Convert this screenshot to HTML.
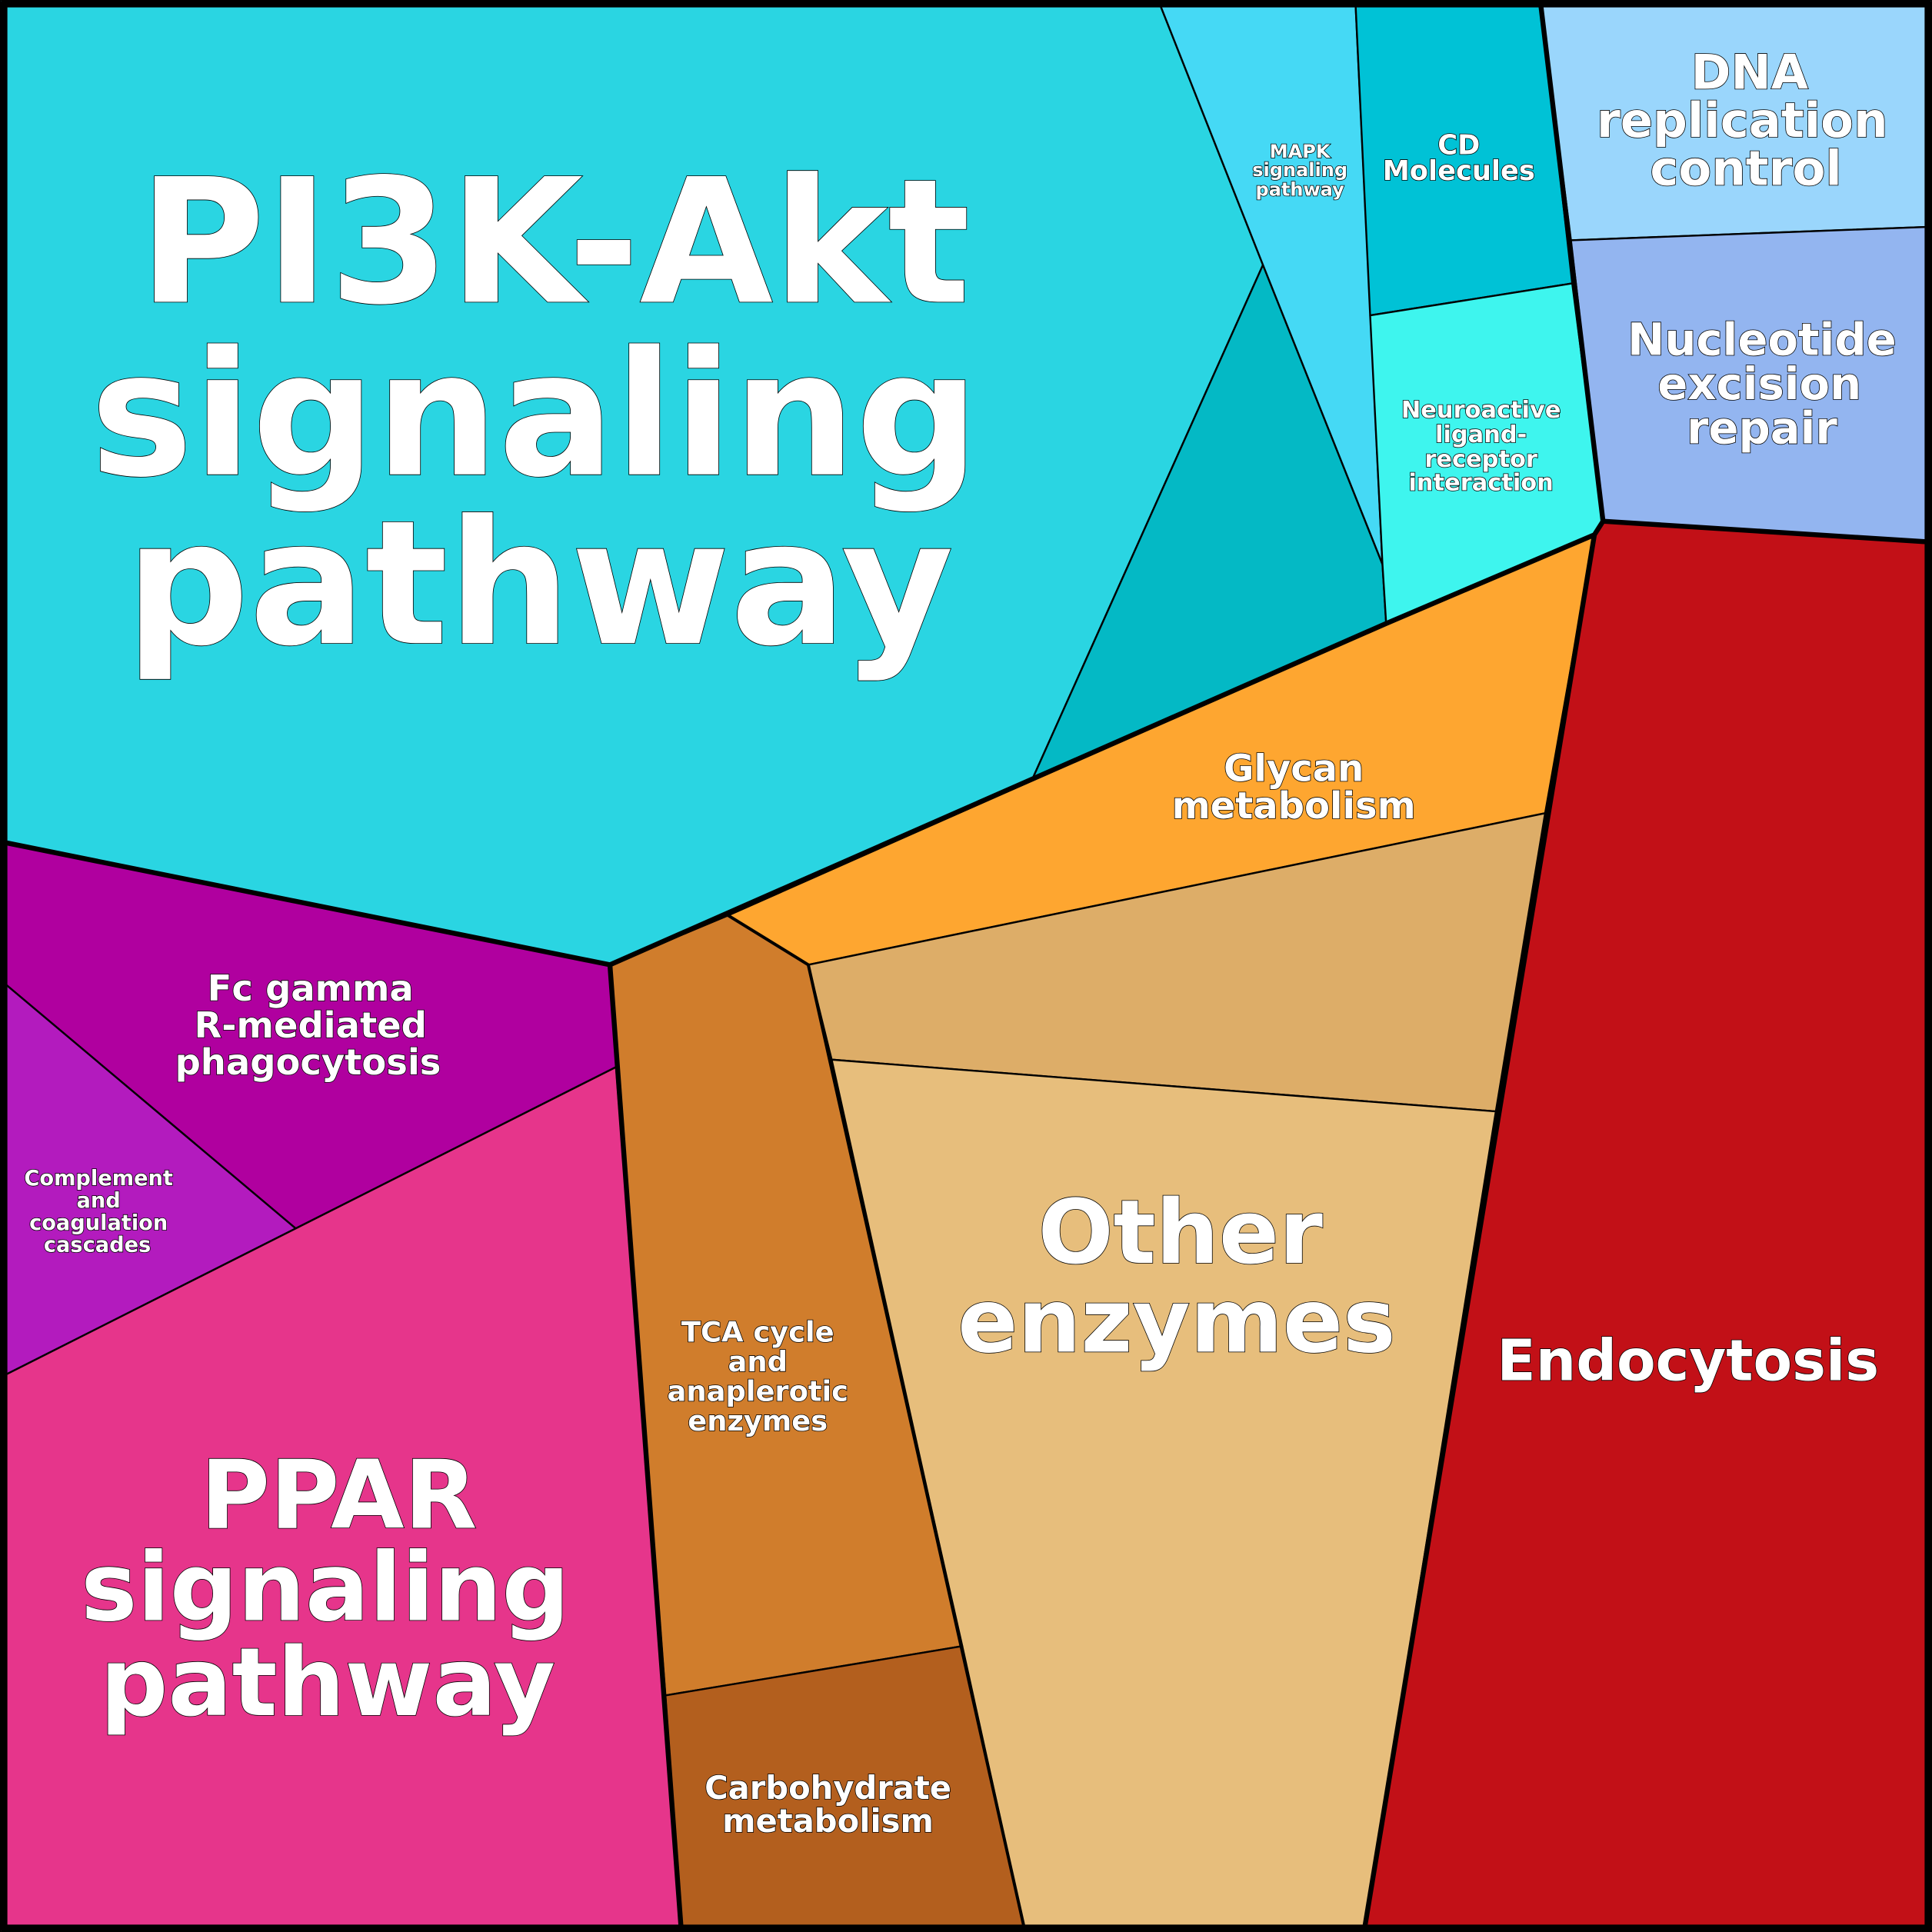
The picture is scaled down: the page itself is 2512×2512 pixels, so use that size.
<!DOCTYPE html>
<html><head><meta charset="utf-8"><style>
html,body{margin:0;padding:0;background:#000;}
svg{display:block;}
text{font-family:"DejaVu Sans","Liberation Sans",sans-serif;font-weight:bold;fill:#fff;stroke:#000;stroke-width:1;paint-order:stroke;text-anchor:middle;}
</style></head><body>
<svg width="2512" height="2512" viewBox="0 0 1568 1568" xmlns="http://www.w3.org/2000/svg">
<g stroke="#000" stroke-width="1.5" stroke-linejoin="round">
<polygon fill="#2AD5E2" points="0,0 940,0 1025,215 838,632 495,783 0,683"/>
<polygon fill="#04B9C5" points="1025,215 1122,458 1125,506 838,632"/>
<polygon fill="#45D9F5" points="940,0 1100,0 1122,458 1025,215"/>
<polygon fill="#00C2D6" points="1100,0 1250,0 1276,230 1112,256"/>
<polygon fill="#3EF5EE" points="1112,256 1276,230 1301,423 1294,434 1125,506 1122,458"/>
<polygon fill="#9AD6FC" points="1250,0 1568,0 1568,184 1275,195"/>
<polygon fill="#93B5F0" points="1275,195 1568,184 1568,440 1301,423"/>
<polygon fill="#C21017" points="1301,423 1568,440 1568,1568 1107,1568 1294,434"/>
<polygon fill="#FEA630" points="1294,434 1254,660 656,783 591,743 1125,506"/>
<polygon fill="#DDAD68" points="656,783 1254,660 1214,902 675,860"/>
<polygon fill="#E7BE7C" points="675,860 1214,902 1107,1568 832,1568"/>
<polygon fill="#D07D2C" points="495,783 591,743 656,783 781,1336 540,1376"/>
<polygon fill="#B35F1E" points="540,1376 781,1336 832,1568 553,1568"/>
<polygon fill="#B0009F" points="0,683 495,783 500,866 240,997 0,795"/>
<polygon fill="#B31BBE" points="0,795 240,997 0,1118"/>
<polygon fill="#E6358B" points="0,1118 500,866 553,1568 0,1568"/>
</g>
<g stroke="#000" stroke-width="4" fill="none" stroke-linejoin="round">
<polyline points="0,683 495,783 1125,506 1294,434 1301,423 1250,0"/>
<polyline points="1301,423 1568,440"/>
<polyline points="495,783 553,1568"/>
<polyline points="591,743 656,783 832,1568" stroke-width="2.5"/>
<polyline points="1294,434 1107,1568"/>
<rect x="3" y="3" width="1562" height="1562" stroke-width="6"/>
</g>
<text font-size="140" x="450" y="245">PI3K-Akt</text>
<text font-size="140" x="434" y="385">signaling</text>
<text font-size="140" x="438" y="522">pathway</text>
<text font-size="77" x="275" y="1240">PPAR</text>
<text font-size="77" x="264" y="1315">signaling</text>
<text font-size="77" x="266" y="1392">pathway</text>
<text font-size="72" x="958" y="1025">Other</text>
<text font-size="72" x="955" y="1097">enzymes</text>
<text font-size="46" x="1370" y="1120">Endocytosis</text>
<text font-size="30" x="1050" y="634">Glycan</text>
<text font-size="30" x="1050" y="664">metabolism</text>
<text font-size="39" x="1420" y="72">DNA</text>
<text font-size="39" x="1414" y="111">replication</text>
<text font-size="39" x="1417" y="150">control</text>
<text font-size="36" x="1430" y="288">Nucleotide</text>
<text font-size="36" x="1428" y="324">excision</text>
<text font-size="36" x="1430" y="360">repair</text>
<text font-size="22" x="1184" y="125">CD</text>
<text font-size="22" x="1184" y="146">Molecules</text>
<text font-size="15" x="1055" y="128">MAPK</text>
<text font-size="15" x="1055" y="143">signaling</text>
<text font-size="15" x="1055" y="159">pathway</text>
<text font-size="19" x="1202" y="339">Neuroactive</text>
<text font-size="19" x="1202" y="359">ligand-</text>
<text font-size="19" x="1202" y="379">receptor</text>
<text font-size="19" x="1202" y="398">interaction</text>
<text font-size="29" x="252" y="812">Fc gamma</text>
<text font-size="29" x="252" y="842">R-mediated</text>
<text font-size="29" x="250" y="872">phagocytosis</text>
<text font-size="17" x="80" y="962">Complement</text>
<text font-size="17" x="80" y="980">and</text>
<text font-size="17" x="80" y="998">coagulation</text>
<text font-size="17" x="79" y="1016">cascades</text>
<text font-size="23" x="615" y="1089">TCA cycle</text>
<text font-size="23" x="615" y="1113">and</text>
<text font-size="23" x="615" y="1137">anaplerotic</text>
<text font-size="23" x="615" y="1161">enzymes</text>
<text font-size="26" x="672" y="1460">Carbohydrate</text>
<text font-size="26" x="672" y="1487">metabolism</text>
</svg>
</body></html>
